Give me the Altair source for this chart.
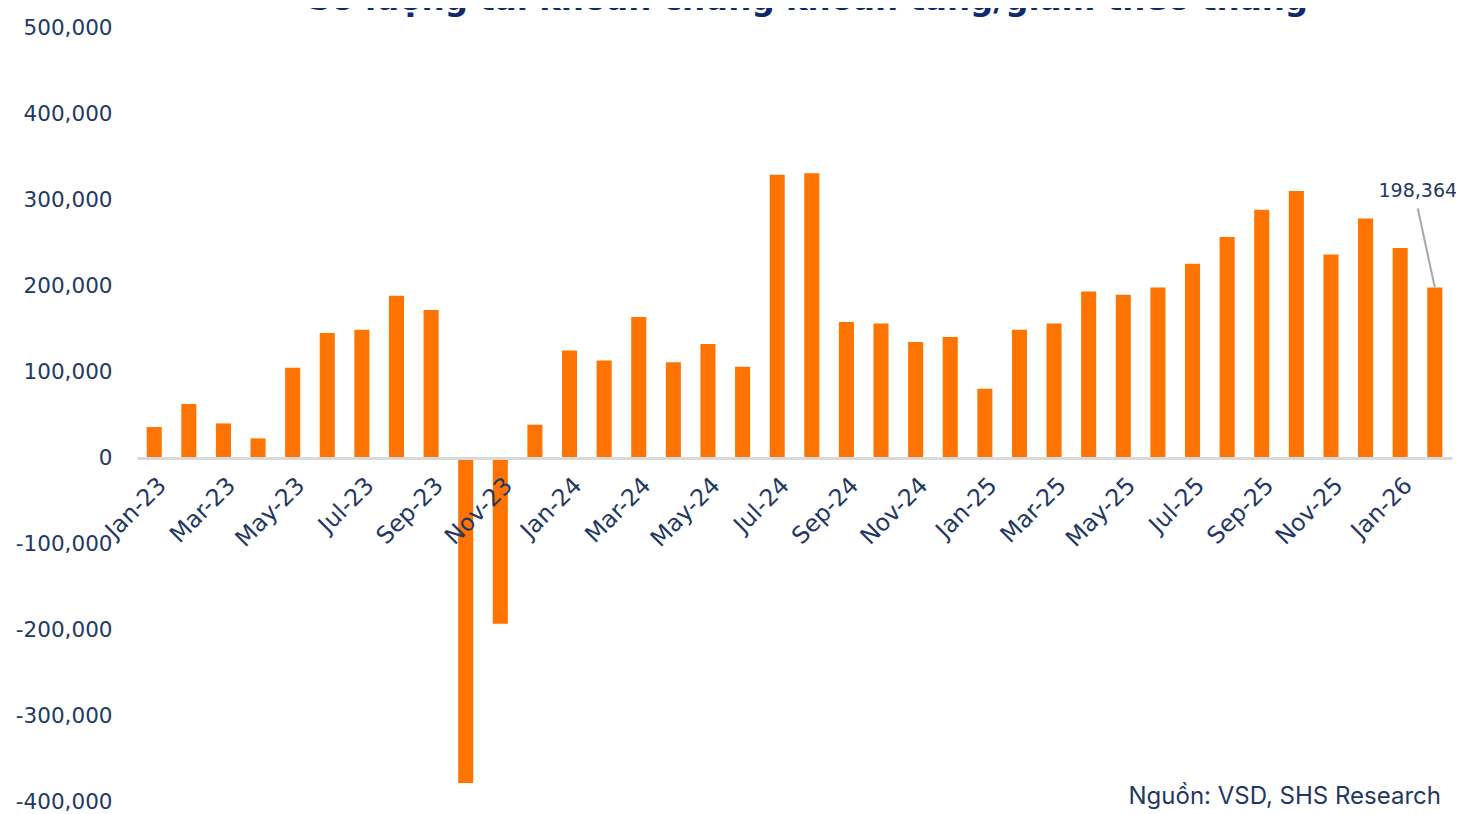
import altair as alt
import pandas as pd

months = ["Jan-23", "Feb-23", "Mar-23", "Apr-23", "May-23", "Jun-23", "Jul-23", "Aug-23",
          "Sep-23", "Oct-23", "Nov-23", "Dec-23",
          "Jan-24", "Feb-24", "Mar-24", "Apr-24", "May-24", "Jun-24", "Jul-24", "Aug-24",
          "Sep-24", "Oct-24", "Nov-24", "Dec-24",
          "Jan-25", "Feb-25", "Mar-25", "Apr-25", "May-25", "Jun-25", "Jul-25", "Aug-25",
          "Sep-25", "Oct-25", "Nov-25", "Dec-25",
          "Jan-26", "Feb-26"]
values = [36000, 62800, 40200, 22800, 105000, 145300, 149200, 188700,
          172100, -377900, -192700, 38700,
          125100, 113500, 164000, 111200, 132600, 106200, 329400, 331000,
          158100, 156500, 134900, 140700,
          80600, 149200, 156500, 193700, 189900, 198400, 225900, 257000,
          288700, 310500, 236700, 278600,
          244200, 198364]
tick_labels = months[::2]
y_ticks = [-400000, -300000, -200000, -100000, 0, 100000, 200000, 300000, 400000, 500000]
y_min, y_max = -400000, 500000

title_text = "Số lượng tài khoản chứng khoán tăng/giảm theo tháng"
source_text = "Nguồn: VSD, SHS Research"
ann_month = "Feb-26"
ann_value = 198364
ann_label = "198,364"

NAVY = "#1F3864"
ORANGE = "#FF7400"
FONT = "DejaVu Sans"

W, H = 1315, 774
zero_from_bottom = H * (-y_min) / (y_max - y_min)

df = pd.DataFrame({"month": months, "value": values})
ann_df = pd.DataFrame({"month": [ann_month], "value": [ann_value], "label": [ann_label]})

x_scale = alt.Scale(domain=months, paddingInner=0.565, paddingOuter=0.28)
y_scale = alt.Scale(domain=[y_min, y_max], nice=False, zero=False)

bars = alt.Chart(df).mark_bar(color=ORANGE).encode(
    x=alt.X("month:N", scale=x_scale, sort=months, title=None,
            axis=alt.Axis(values=tick_labels, labelAngle=-45, offset=-zero_from_bottom,
                          domainColor="#D9D9D9", domainWidth=3, ticks=False,
                          labelFont=FONT, labelFontSize=23.5, labelColor=NAVY,
                          labelPadding=15, labelOverlap=False, zindex=1)),
    y=alt.Y("value:Q", scale=y_scale, title=None,
            axis=alt.Axis(values=y_ticks, grid=False, domain=False, ticks=False,
                          labelFont=FONT, labelFontSize=21.5, labelColor=NAVY,
                          labelPadding=25, labelOverlap=False,
                          labelExpr="datum.value < 0 ? '-' + format(-datum.value, ',') : format(datum.value, ',')")),
)

leader = alt.Chart(ann_df).mark_rule(color="#A6A6A6", strokeWidth=2, x2Offset=-17, y2Offset=-79).encode(
    x=alt.X("month:N", scale=x_scale, sort=months),
    x2="month:N",
    y=alt.Y("value:Q", scale=y_scale),
    y2="value:Q",
)

ann_text = alt.Chart(ann_df).mark_text(font=FONT, fontSize=19, color=NAVY, dx=-17, dy=-96,
                                       baseline="middle", align="center").encode(
    x=alt.X("month:N", scale=x_scale, sort=months),
    y=alt.Y("value:Q", scale=y_scale),
    text="label:N",
)

title = alt.Chart(pd.DataFrame({"t": [title_text]})).mark_text(
    font="DejaVu Sans", fontWeight="bold", fontSize=32.5, color="#0E2A6E",
    align="center", baseline="alphabetic").encode(
    x=alt.value(671), y=alt.value(-18), text="t:N")

source = alt.Chart(pd.DataFrame({"t": [source_text]})).mark_text(
    font="Inter", fontSize=24, color=NAVY, align="right", baseline="middle").encode(
    x=alt.value(1304), y=alt.value(769), text="t:N")

chart = alt.layer(bars, leader, ann_text, title, source).properties(
    width=W, height=H,
    autosize=alt.AutoSizeParams(type="none"),
    padding={"left": 129, "top": 20, "right": 4, "bottom": 10},
).configure_view(stroke=None)

chart.save("out.html", embed_options={"renderer": "svg", "actions": False})
